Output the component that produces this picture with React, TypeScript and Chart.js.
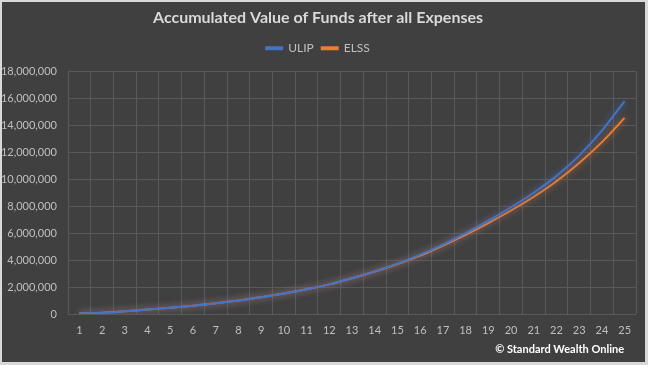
import React, { useEffect, useRef } from "react";
import { Chart, registerables } from "chart.js";

Chart.register(...registerables);

const years = ["1","2","3","4","5","6","7","8","9","10","11","12","13","14","15","16","17","18","19","20","21","22","23","24","25"];
const ulipValues = [50000, 85000, 195000, 325000, 465000, 615000, 795000, 995000, 1245000, 1520000, 1830000, 2200000, 2650000, 3160000, 3740000, 4400000, 5150000, 6000000, 6920000, 7920000, 9000000, 10250000, 11750000, 13600000, 15800000];
const elssValues = [50000, 90000, 200000, 330000, 470000, 620000, 800000, 1000000, 1250000, 1520000, 1830000, 2200000, 2650000, 3150000, 3710000, 4330000, 5080000, 5880000, 6750000, 7680000, 8700000, 9850000, 11200000, 12750000, 14550000];
const yTicks = [0, 2000000, 4000000, 6000000, 8000000, 10000000, 12000000, 14000000, 16000000, 18000000];

const FONT = "Lato, 'Open Sans', sans-serif";
const BG = "#404040";

const bgPlugin = {
  id: "bg",
  beforeDraw(chart: any) {
    const { ctx, width, height } = chart;
    ctx.save();
    ctx.fillStyle = "#d9d9d9";
    ctx.fillRect(0, 0, width, height);
    ctx.fillStyle = BG;
    ctx.fillRect(2, 2, width - 5, height - 5);
    ctx.restore();
  },
  afterDraw(chart: any) {
    const { ctx } = chart;
    ctx.save();
    ctx.fillStyle = "#ffffff";
    ctx.font = "bold 11px " + FONT;
    ctx.textAlign = "right";
    ctx.textBaseline = "middle";
    ctx.fillText("\u00A9 Standard Wealth Online", 624, 349);
    ctx.restore();
  },
};

const glowPlugin = {
  id: "glow",
  beforeDatasetDraw(chart: any, args: any) {
    const ds = chart.data.datasets[args.index];
    chart.ctx.save();
    chart.ctx.shadowColor = ds.glowColor;
    chart.ctx.shadowBlur = 7;
  },
  afterDatasetDraw(chart: any) {
    chart.ctx.restore();
  },
};

export default function App() {
  const ref = useRef<HTMLCanvasElement>(null);
  useEffect(() => {
    document.body.style.margin = "0";
    const chart = new Chart(ref.current!, {
      type: "line",
      data: {
        labels: years,
        datasets: [
          {
            label: "ULIP",
            data: ulipValues,
            borderColor: "#4472C4",
            backgroundColor: "#4472C4",
            glowColor: "rgba(68,114,196,0.8)",
            borderWidth: 2,
            pointRadius: 0,
            tension: 0.3,
          } as any,
          {
            label: "ELSS",
            data: elssValues,
            borderColor: "#ED7D31",
            backgroundColor: "#ED7D31",
            glowColor: "rgba(237,125,49,0.8)",
            borderWidth: 2,
            pointRadius: 0,
            tension: 0.3,
          } as any,
        ],
      },
      options: {
        responsive: false,
        animation: false,
        layout: { padding: { left: 0, right: 12, top: 4, bottom: 21 } },
        plugins: {
          title: {
            display: true,
            text: "Accumulated Value of Funds after all Expenses",
            color: "#d9d9d9",
            font: { family: FONT, size: 16, weight: "bold" },
            padding: { top: 4, bottom: 7 },
          },
          subtitle: {
            display: true,
            text: "",
            weight: 500,
            font: { size: 1 },
            padding: { top: 3, bottom: 3 },
          },
          legend: {
            display: true,
            labels: {
              color: "#bfbfbf",
              font: { family: FONT, size: 12 },
              boxWidth: 16,
              boxHeight: 2,
              padding: 8,
            },
          },
          tooltip: { enabled: false },
        },
        scales: {
          x: {
            offset: true,
            grid: { offset: true, color: "#595959", drawTicks: false },
            border: { display: false },
            ticks: { color: "#bfbfbf", font: { family: FONT, size: 11 }, padding: 10, maxRotation: 0, autoSkip: false },
            afterFit(s: any) { s.height = 30; },
          },
          y: {
            min: 0,
            max: 18000000,
            grid: { color: "#595959", drawTicks: false },
            border: { display: false },
            afterBuildTicks(s: any) { s.ticks = yTicks.map((v) => ({ value: v })); },
            ticks: {
              color: "#bfbfbf",
              font: { family: FONT, size: 11 },
              padding: 11,
              callback: (v: any) => Number(v).toLocaleString("en-US"),
            },
            afterFit(s: any) { s.width = 68; },
          },
        },
      },
      plugins: [bgPlugin, glowPlugin],
    } as any);
    return () => chart.destroy();
  }, []);
  return <canvas ref={ref} width={648} height={365} style={{ display: "block" }} />;
}
